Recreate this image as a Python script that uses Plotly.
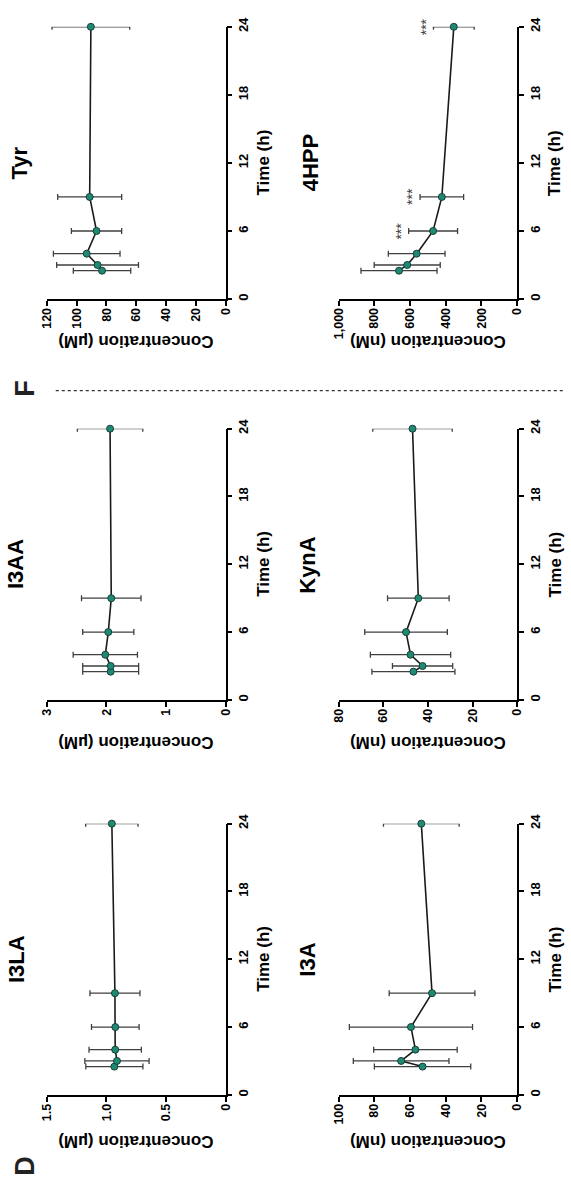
import plotly.graph_objects as go

W, H = 571, 1180
FONT = "Arial, 'Liberation Sans', sans-serif"

# ---------------- data ----------------
times = [2.5, 3, 4, 6, 9, 24]
time_ticks = [0, 6, 12, 18, 24]

tyr_mean = [83.0, 86.0, 93.3, 86.7, 91.3, 90.5]
tyr_err = [19.3, 27.5, 22.4, 16.9, 21.5, 26.1]

hpp_mean = [662, 616, 563, 471, 422, 355]
hpp_err = [213, 185, 159, 137, 122, 114]
hpp_star_times = [6, 9, 24]

i3aa_mean = [1.93, 1.93, 2.02, 1.97, 1.92, 1.94]
i3aa_err = [0.47, 0.47, 0.54, 0.43, 0.50, 0.55]

kyna_mean = [46.5, 42.4, 47.8, 49.8, 44.3, 46.9]
kyna_err = [18.6, 13.5, 18.0, 18.5, 13.8, 17.8]

i3la_mean = [0.934, 0.912, 0.927, 0.926, 0.929, 0.955]
i3la_err = [0.24, 0.27, 0.22, 0.20, 0.21, 0.22]

i3a_mean = [53.0, 65.0, 57.0, 59.5, 47.7, 53.7]
i3a_err = [27.0, 26.8, 23.4, 34.5, 24.0, 21.2]

panel_names = ["Tyr", "4HPP", "I3AA", "KynA", "I3LA", "I3A"]
panel_units = ["µM", "nM", "µM", "nM", "µM", "nM"]
panel_means = [tyr_mean, hpp_mean, i3aa_mean, kyna_mean, i3la_mean, i3a_mean]
panel_errs = [tyr_err, hpp_err, i3aa_err, kyna_err, i3la_err, i3a_err]
panel_max = [120, 1000, 3, 80, 1.5, 100]
panel_ticks = [
    [0, 20, 40, 60, 80, 100, 120],
    [0, 200, 400, 600, 800, 1000],
    [0, 1, 2, 3],
    [0, 20, 40, 60, 80],
    [0, 0.5, 1.0, 1.5],
    [0, 20, 40, 60, 80, 100],
]
panel_ticktext = [
    ["0", "20", "40", "60", "80", "100", "120"],
    ["0", "200", "400", "600", "800", "1,000"],
    ["0", "1", "2", "3"],
    ["0", "20", "40", "60", "80"],
    ["0", "0.5", "1.0", "1.5"],
    ["0", "20", "40", "60", "80", "100"],
]

# ---------------- layout geometry (pixels) ----------------
cols = [(41, 224), (340, 523)]
rows = [(17, 292), (423, 697), (822, 1096)]
conc_title_off = [43, 43, 47]
title_off = [-28, -28, -32, -32, -32, -32]


def px(x):
    return x / W


def py(y):
    return 1 - y / H


fig = go.Figure()
layout = {}
annotations = []

for i in range(6):
    r, c = divmod(i, 2)
    x0, x1 = cols[c]
    y0, y1 = rows[r]
    n = i + 1
    xa = "x" if n == 1 else f"x{n}"
    ya = "y" if n == 1 else f"y{n}"
    fig.add_trace(
        go.Scatter(
            x=panel_means[i],
            y=times,
            mode="lines+markers",
            error_x=dict(type="data", array=panel_errs[i], color="#404040",
                         thickness=1.3, width=3),
            line=dict(color="#1a1a1a", width=1.6),
            marker=dict(size=7, color="#1f8a74", line=dict(color="#173f36", width=1)),
            xaxis=xa,
            yaxis=ya,
            cliponaxis=False,
            showlegend=False,
        )
    )
    layout["xaxis" if n == 1 else f"xaxis{n}"] = dict(
        domain=[px(x0), px(x1)],
        range=[panel_max[i], 0],
        anchor=ya,
        tickvals=panel_ticks[i],
        ticktext=panel_ticktext[i],
        tickangle=-90,
        ticks="outside",
        ticklen=5,
        tickwidth=1.5,
        tickcolor="black",
        ticklabelstandoff=-3,
        showline=True,
        linewidth=1.8,
        linecolor="black",
        showgrid=False,
        zeroline=False,
        tickfont=dict(size=12.5, family=FONT, weight="bold", color="black"),
    )
    layout["yaxis" if n == 1 else f"yaxis{n}"] = dict(
        domain=[py(y1), py(y0)],
        range=[0, 24],
        anchor=xa,
        side="right",
        tickvals=time_ticks,
        tickangle=-90,
        ticks="outside",
        ticklen=5,
        tickwidth=1.5,
        tickcolor="black",
        showline=True,
        linewidth=1.8,
        linecolor="black",
        showgrid=False,
        zeroline=False,
        tickfont=dict(size=13, family=FONT, weight="bold", color="black"),
    )
    cy = (y0 + y1) / 2
    cx = (x0 + x1) / 2
    annotations.append(dict(
        text=panel_names[i], x=px(x0 + title_off[i]), y=py(cy), xref="paper", yref="paper",
        textangle=-90, showarrow=False, xanchor="center", yanchor="middle",
        font=dict(size=22, family=FONT, weight="bold", color="black")))
    annotations.append(dict(
        text="Time (h)", x=px(x1 + 39), y=py(cy), xref="paper", yref="paper",
        textangle=-90, showarrow=False, xanchor="center", yanchor="middle",
        font=dict(size=17, family=FONT, weight="bold", color="black")))
    annotations.append(dict(
        text=f"Concentration ({panel_units[i]})", x=px(cx), y=py(y1 + conc_title_off[r]),
        xref="paper", yref="paper",
        textangle=180, showarrow=False, xanchor="center", yanchor="middle",
        font=dict(size=17, family=FONT, weight="bold", color="black")))

for t in hpp_star_times:
    k = times.index(t)
    annotations.append(dict(
        text="***", x=hpp_mean[k] + hpp_err[k], y=t, xref="x2", yref="y2",
        textangle=-90, showarrow=False, xanchor="center", yanchor="middle",
        xshift=-8,
        font=dict(size=14, family=FONT, color="#3a3a3a")))

annotations.append(dict(text="F", x=px(19), y=py(382), xref="paper", yref="paper",
                        textangle=-90, showarrow=False, xanchor="center", yanchor="middle",
                        font=dict(size=27, family=FONT, weight="bold", color="#222222")))
annotations.append(dict(text="D", x=px(19), y=py(1168), xref="paper", yref="paper",
                        textangle=-90, showarrow=False, xanchor="center", yanchor="middle",
                        font=dict(size=27, family=FONT, weight="bold", color="#222222")))

# dotted separator between panel groups, on a full-page overlay axis in pixel units
sep_x = [50, 571]
sep_y = [384.5, 384.5]
fig.add_trace(go.Scatter(
    x=sep_x, y=sep_y, mode="lines", xaxis="x7", yaxis="y7",
    line=dict(color="#333333", width=1.3, dash="dot"),
    hoverinfo="skip", showlegend=False, cliponaxis=False))
layout["xaxis7"] = dict(domain=[0, 1], range=[0, W], anchor="y7", visible=False,
                        fixedrange=True)
layout["yaxis7"] = dict(domain=[0, 1], range=[H, 0], anchor="x7", visible=False,
                        fixedrange=True)

fig.update_layout(
    **layout,
    annotations=annotations,
    width=W,
    height=H,
    margin=dict(l=0, r=0, t=0, b=0),
    paper_bgcolor="white",
    plot_bgcolor="rgba(0,0,0,0)",
    showlegend=False,
)

fig.write_html("out.html")
